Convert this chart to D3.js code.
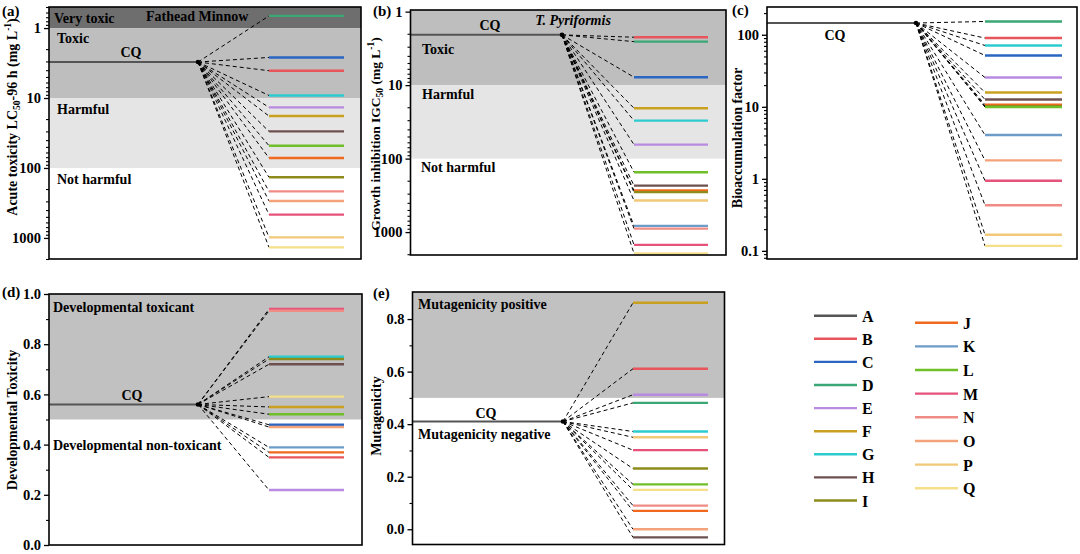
<!DOCTYPE html>
<html><head><meta charset="utf-8">
<script src="https://cdn.jsdelivr.net/npm/d3@7/dist/d3.min.js"></script>
<style>
body{margin:0;background:#fff}
text{font-family:"Liberation Serif","Times New Roman",serif;font-weight:bold;fill:#000}
</style>
</head><body>
<svg id="c" width="1080" height="554"></svg>
<script>
// ---------------- data ----------------
const letters = ["A","B","C","D","E","F","G","H","I","J","K","L","M","N","O","P","Q"];
const letterColors = ["#555555","#e8555a","#2a66c2","#3aa774","#b88ae0","#c9a020","#2ccbd0","#6e5050","#8c8c1c","#f0691e","#6d9cc8","#70bf28","#e5527a","#f08c86","#f4a27a","#f2c879","#f5df8a"];

// (a) Fathead minnow acute toxicity LC50-96h (mg/L)
const acuteKeys   = ["D","C","B","G","E","F","H","L","J","I","N","O","M","P","Q"];
const acuteValues = [0.67,2.63,4.07,9.2,13.6,18.1,30,48,72,136,216,296,464,980,1362];
const acuteCQ = 3.06;
const acuteTicks = [1,10,100,1000];
const acuteBreaks = [1,10,100];

// (b) T. pyriformis growth inhibition IGC50 (mg/L)
const growthKeys   = ["B","D","C","F","G","E","L","H","J","I","P","K","N","M","Q"];
const growthValues = [2.23,2.56,7.8,20.6,30.4,64.5,153,233,272,286,372,824,896,1494,1950];
const growthCQ = 2.07;
const growthTicks = [1,10,100,1000];
const growthBreaks = [10,100];

// (c) Bioaccumulation factor
const bioKeys   = ["D","B","G","C","E","F","H","J","I","L","K","O","M","N","P","Q"];
const bioValues = [153,90,71,51.6,25.5,15.8,12.6,10.7,10.2,9.9,4.05,1.8,0.94,0.43,0.167,0.117];
const bioCQ = 145.6;
const bioTicks = [0.1,1,10,100];

// (d) Developmental toxicity
const devKeys   = ["M","N","G","I","H","Q","F","L","C","O","K","J","B","E"];
const devValues = [0.940,0.933,0.750,0.741,0.720,0.591,0.550,0.521,0.479,0.470,0.389,0.369,0.349,0.219];
const devCQ = 0.56;
const devTicks = [0,0.2,0.4,0.6,0.8,1.0];
const devThreshold = 0.5;

// (e) Mutagenicity
const mutKeys   = ["F","B","E","D","G","P","M","I","L","Q","N","J","O","H"];
const mutValues = [0.862,0.611,0.512,0.481,0.372,0.350,0.301,0.231,0.171,0.150,0.090,0.070,0.0,-0.031];
const mutCQ = 0.41;
const mutTicks = [0,0.2,0.4,0.6,0.8];
const mutThreshold = 0.5;

// ---------------- drawing ----------------
const svg = d3.select("#c");
const colorOf = d3.scaleOrdinal().domain(letters).range(letterColors);

function logMinor(domain){
  const lo = Math.min(...domain), hi = Math.max(...domain);
  const out = [];
  for(let e=Math.floor(Math.log10(lo)); e<=Math.ceil(Math.log10(hi)); e++){
    for(let k=1;k<10;k++){ const v=k*Math.pow(10,e); if(v>=lo&&v<=hi&&k!==1) out.push(v); }
  }
  return out;
}

function drawPanel(c){
  const g = svg.append("g");
  const y = c.scale;
  (c.bands||[]).forEach(b=>{
    const ya = Math.max(c.y0, Math.min(c.y1, y(b[0])));
    const yb = Math.max(c.y0, Math.min(c.y1, y(b[1])));
    g.append("rect").attr("x",c.x0).attr("width",c.x1-c.x0)
     .attr("y",Math.min(ya,yb)).attr("height",Math.abs(yb-ya)).attr("fill",b[2]);
  });
  c.texts.forEach(t=>{
    g.append("text").attr("x",t[1]).attr("y",t[2]).attr("text-anchor",t[3]||"start")
     .style("font-size","14px").style("font-style",t[4]?"italic":"normal").text(t[0]);
  });
  const yCQ = y(c.cq);
  g.append("line").attr("x1",c.x0).attr("x2",c.cqEnd).attr("y1",yCQ).attr("y2",yCQ)
   .attr("stroke","#555").attr("stroke-width",2);
  c.keys.forEach((k,i)=>{
    g.append("line").attr("x1",c.cqEnd).attr("y1",yCQ).attr("x2",c.ls).attr("y2",y(c.values[i]))
     .attr("stroke","#000").attr("stroke-width",1).attr("stroke-dasharray","4,3");
  });
  g.append("circle").attr("cx",c.cqEnd).attr("cy",yCQ).attr("r",2.3).attr("fill","#000");
  c.keys.forEach((k,i)=>{
    g.append("line").attr("x1",c.ls).attr("x2",c.le).attr("y1",y(c.values[i])).attr("y2",y(c.values[i]))
     .attr("stroke",colorOf(k)).attr("stroke-width",2.4);
  });
  const ax = g.append("g").attr("transform",`translate(${c.x0},0)`)
    .call(d3.axisLeft(y).tickValues(c.ticks).tickSize(5).tickPadding(3).tickFormat(c.fmt));
  ax.select(".domain").remove();
  ax.selectAll("text").style("font-size","14.5px");
  ax.selectAll("line").attr("stroke-width",1.3);
  const mx = g.append("g").attr("transform",`translate(${c.x0},0)`)
    .call(d3.axisLeft(y).tickValues(c.minor).tickSize(3).tickFormat(""));
  mx.select(".domain").remove();
  mx.selectAll("line").attr("stroke-width",1.1);
  g.append("rect").attr("x",c.x0).attr("y",c.y0).attr("width",c.x1-c.x0).attr("height",c.y1-c.y0)
   .attr("fill","none").attr("stroke","#000").attr("stroke-width",1.6);
  const tt = g.append("text").attr("transform",`translate(${c.tx},${c.ty}) rotate(-90)`)
    .attr("text-anchor","middle").style("font-size",(c.tfs||14)+"px");
  c.title.forEach(p=>{
    const s = tt.append("tspan").text(p[0]);
    if(p[1]==="sub"){ s.style("font-size","9.5px").attr("dy",3); }
    else if(p[1]==="sup"){ s.style("font-size","9.5px").attr("dy",-6); }
    else if(p[1]==="back-sub"){ s.attr("dy",-3); }
    else if(p[1]==="back-sup"){ s.attr("dy",6); }
  });
  g.append("text").attr("x",c.lx).attr("y",c.ly).style("font-size","15px").text(c.label);
}

const logFmt = d => d3.format("~g")(d);
const linFmt = d3.format(".1f");

// (a)
drawPanel({
  x0:49, x1:361, y0:7, y1:259,
  scale: d3.scaleLog().domain([0.5,2000]).range([7,259]),
  ticks: acuteTicks, minor: logMinor([0.5,2000]), fmt: logFmt,
  bands: [[0.5,acuteBreaks[0],"#6e6e6e"],[acuteBreaks[0],acuteBreaks[1],"#bebebe"],[acuteBreaks[1],acuteBreaks[2],"#e5e5e5"]],
  texts: [["Very toxic",54,23],["Fathead Minnow",146,21],["Toxic",57,43],["CQ",131,57,"middle"],["Harmful",57,114],["Not harmful",57,184]],
  cq: acuteCQ, cqEnd:198, ls:269, le:344, keys: acuteKeys, values: acuteValues,
  title: [["Acute toxicity LC"],["50","sub"],["-96 h (mg L","back-sub"],["-1","sup"],[")","back-sup"]],
  tx:17, ty:117, label:"(a)", lx:2, ly:16
});

// (b)
drawPanel({
  x0:410.5, x1:726, y0:10, y1:255,
  scale: d3.scaleLog().domain([0.95,2050]).range([10,255]),
  ticks: growthTicks, minor: logMinor([0.95,2050]), fmt: logFmt,
  bands: [[0.95,growthBreaks[0],"#bebebe"],[growthBreaks[0],growthBreaks[1],"#e5e5e5"]],
  texts: [["CQ",490,30,"middle"],["T. Pyriformis",573,25,"middle",true],["Toxic",422,54],["Harmful",422,99],["Not harmful",421,172]],
  cq: growthCQ, cqEnd:562, ls:634, le:708, keys: growthKeys, values: growthValues,
  title: [["Growth inhibition IGC"],["50","sub"],[" (mg L","back-sub"],["-1","sup"],[")","back-sup"]],
  tx:380, ty:134, tfs:13.5, label:"(b)", lx:373, ly:16
});

// (c)
drawPanel({
  x0:767, x1:1077, y0:7, y1:259,
  scale: d3.scaleLog().domain([243,0.077]).range([7,259]),
  ticks: bioTicks, minor: logMinor([0.077,243]), fmt: logFmt,
  bands: [],
  texts: [["CQ",835,40,"middle"]],
  cq: bioCQ, cqEnd:916, ls:985, le:1062, keys: bioKeys, values: bioValues,
  title: [["Bioaccumulation factor"]],
  tx:742, ty:138, label:"(c)", lx:732, ly:15
});

// (d)
drawPanel({
  x0:49, x1:362, y0:294, y1:545,
  scale: d3.scaleLinear().domain([1,0]).range([294,545]),
  ticks: devTicks, minor: d3.range(0.1,1,0.2), fmt: linFmt,
  bands: [[1,devThreshold,"#c1c1c1"]],
  texts: [["Developmental toxicant",53,312],["CQ",132,400,"middle"],["Developmental non-toxicant",53,450]],
  cq: devCQ, cqEnd:198, ls:269, le:344, keys: devKeys, values: devValues,
  title: [["Developmental Toxicity"]],
  tx:17, ty:420, label:"(d)", lx:2, ly:297
});

// (e)
drawPanel({
  x0:412.5, x1:724.5, y0:292, y1:544.5,
  scale: d3.scaleLinear().domain([0.903,-0.058]).range([292,544.5]),
  ticks: mutTicks, minor: d3.range(0.1,0.9,0.2), fmt: linFmt,
  bands: [[0.903,mutThreshold,"#c1c1c1"]],
  texts: [["Mutagenicity positive",418,309],["CQ",486,418,"middle"],["Mutagenicity negative",418,439]],
  cq: mutCQ, cqEnd:563, ls:633, le:708, keys: mutKeys, values: mutValues,
  title: [["Mutagenicity"]],
  tx:381, ty:416, label:"(e)", lx:373, ly:298
});

// legend
const leg = svg.append("g");
letters.forEach((k,i)=>{
  const col = i<9 ? 0 : 1;
  const row = col===0 ? i : i-9;
  const yy = col===0 ? 315.7 + row*23.1 : 322.7 + row*23.65;
  const lx = col===0 ? 814 : 915;
  leg.append("line").attr("x1",lx).attr("x2",lx+43).attr("y1",yy).attr("y2",yy)
     .attr("stroke",colorOf(k)).attr("stroke-width",2.4);
  leg.append("text").attr("x",lx+48).attr("y",yy+6).style("font-size","16px").text(k);
});
</script>
</body></html>
